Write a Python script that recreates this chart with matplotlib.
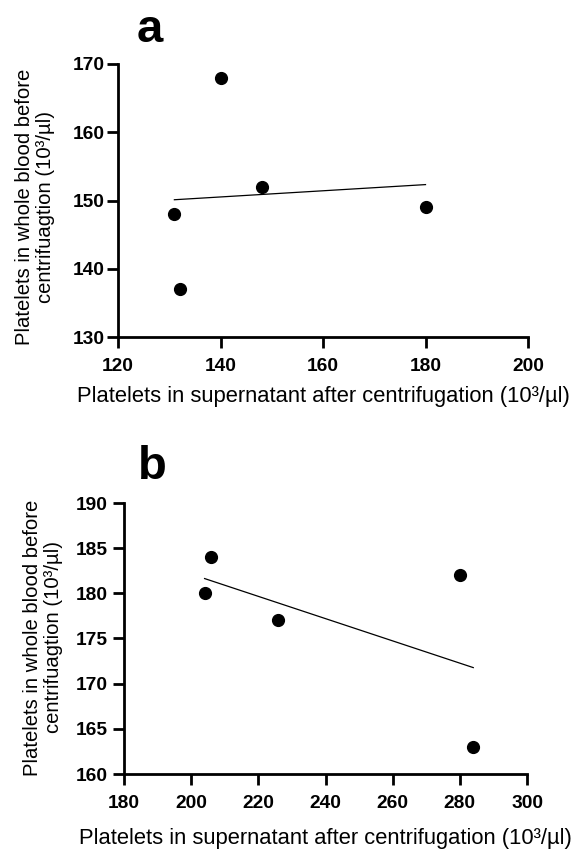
import matplotlib.pyplot as plt
import numpy as np

plt.rcParams['font.family'] = ['Liberation Sans', 'DejaVu Sans']

# panel a
a_x = [131, 132, 140, 148, 180]
a_y = [148, 137, 168, 152, 149]
# panel b
b_x = [204, 206, 226, 280, 284]
b_y = [180, 184, 177, 182, 163]

a_xticks = [120, 140, 160, 180, 200]
a_yticks = [130, 140, 150, 160, 170]
b_xticks = [180, 200, 220, 240, 260, 280, 300]
b_yticks = [160, 165, 170, 175, 180, 185, 190]

xlabel = 'Platelets in supernatant after centrifugation (10\u00b3/\u00b5l)'
ylabel = 'Platelets in whole blood before\ncentrifuagtion (10\u00b3/\u00b5l)'

W, H = 579, 855
fig = plt.figure(figsize=(W / 100, H / 100), dpi=100)
# axes boxes in pixels: left, right, top, bottom
ax_a = fig.add_axes([118 / W, 1 - 337 / H, 410 / W, 273 / H])
ax_b = fig.add_axes([124 / W, 1 - 774 / H, 403 / W, 271 / H])


def draw(ax, x, y, xt, yt, letter, lx, ly, ypad, xlab_y, ylab_x, ylab_y):
    ax.scatter(x, y, s=72, color='black', zorder=3, clip_on=False)
    k, c = np.polyfit(x, y, 1)
    xs = np.array([min(x), max(x)])
    ax.plot(xs, k * xs + c, color='black', lw=0.9)
    ax.set_xlim(xt[0], xt[-1])
    ax.set_ylim(yt[0], yt[-1])
    ax.set_xticks(xt)
    ax.set_yticks(yt)
    for s in ['top', 'right']:
        ax.spines[s].set_visible(False)
    for s in ['left', 'bottom']:
        ax.spines[s].set_linewidth(2)
    ax.tick_params(width=2, length=8, labelsize=13.8)
    ax.tick_params(axis='x', pad=7)
    ax.tick_params(axis='y', pad=ypad)
    for lb in ax.get_xticklabels() + ax.get_yticklabels():
        lb.set_fontweight('bold')
    ax.set_xlabel(xlabel, fontsize=15.8)
    ax.xaxis.set_label_coords(0.5, xlab_y)
    ax.set_ylabel(ylabel, fontsize=14.6, linespacing=1.12)
    ax.yaxis.set_label_coords(ylab_x, ylab_y)
    ax.text(lx, ly, letter, transform=ax.transAxes, fontsize=34,
            fontweight='bold', ha='center', va='baseline')


draw(ax_a, a_x, a_y, a_xticks, a_yticks, 'a', 0.078, 1.081, 1.5, -0.179, -0.154, 0.476)
draw(ax_b, b_x, b_y, b_xticks, b_yticks, 'b', 0.07, 1.089, 3.5, -0.199, -0.151, 0.504)

fig.savefig('out.png', dpi=100)
